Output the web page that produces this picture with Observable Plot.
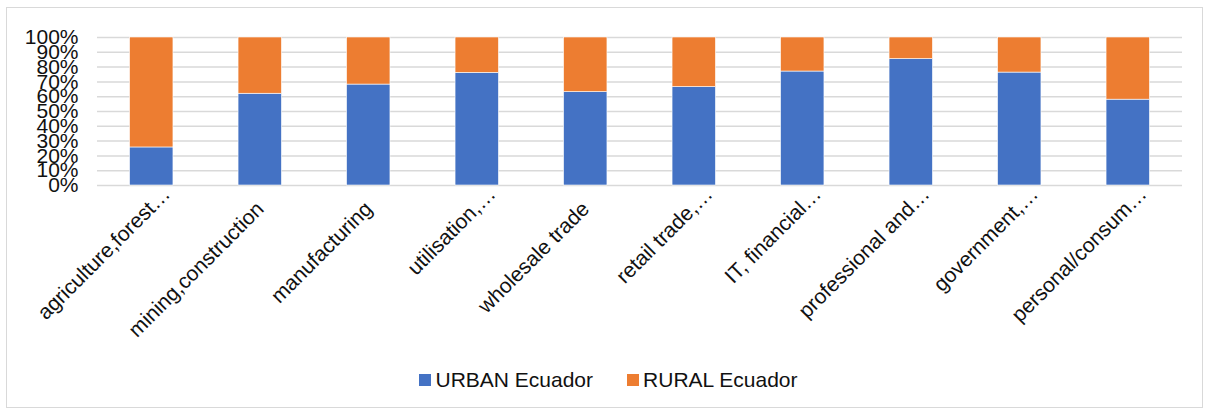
<!DOCTYPE html>
<html>
<head>
<meta charset="utf-8">
<script src="https://cdn.jsdelivr.net/npm/d3@7"></script>
<script src="https://cdn.jsdelivr.net/npm/@observablehq/plot@0.6"></script>
<style>
  html, body { margin: 0; padding: 0; background: #fff; }
  body { font-family: "Liberation Sans", Arial, sans-serif; }
  #frame {
    position: absolute; left: 6px; top: 7px; width: 1195px; height: 399px;
    border: 1px solid #d9d9d9; background: #fff; overflow: hidden;
  }
  #legend {
    display: flex; justify-content: center; align-items: center;
    margin-top: 10px; font-size: 21px; color: #111; padding-left: 8px;
  }
  .item { display: flex; align-items: center; margin: 0 17px; }
  .sw { width: 12px; height: 12px; margin-right: 4px; }
</style>
</head>
<body>
<div id="frame">
  <div id="chart"></div>
  <div id="legend"></div>
</div>
<script>
const categories = [
  "agriculture,forest…", "mining,construction", "manufacturing", "utilisation,…",
  "wholesale trade", "retail trade,…", "IT, financial…", "professional and…",
  "government,…", "personal/consum…"
];
const urban = [25.7, 62.0, 68.2, 76.1, 63.1, 66.5, 77.0, 85.4, 76.3, 58.0];
const rural = [74.3, 38.0, 31.8, 23.9, 36.9, 33.5, 23.0, 14.6, 23.7, 42.0];
const seriesNames = ["URBAN Ecuador", "RURAL Ecuador"];
const seriesColors = ["#4472C4", "#ED7D31"];
const yTicks = [0, 10, 20, 30, 40, 50, 60, 70, 80, 90, 100];

const data = [];
categories.forEach((c, i) => {
  data.push({cat: c, series: seriesNames[0], value: urban[i]});
  data.push({cat: c, series: seriesNames[1], value: rural[i]});
});

const chart = Plot.plot({
  width: 1195,
  height: 350,
  marginTop: 29,
  marginLeft: 90,
  marginRight: 20,
  marginBottom: 173,
  style: {fontFamily: '"Liberation Sans", Arial, sans-serif', fontSize: "21px", color: "#111", background: "white"},
  x: {domain: categories, paddingInner: 0.6, paddingOuter: 0.3, round: false, label: null},
  y: {domain: [0, 100], label: null},
  color: {domain: seriesNames, range: seriesColors},
  marks: [
    Plot.ruleY(yTicks, {stroke: "#d9d9d9", strokeWidth: 1.5}),
    Plot.barY(data, {x: "cat", y: "value", fill: "series", order: seriesNames, stroke: "white", strokeWidth: 0.6}),
    Plot.axisY({ticks: yTicks, tickFormat: d => d + "%", tickSize: 0, tickPadding: 19, fontSize: 21, label: null}),
    Plot.axisX({tickSize: 0, tickPadding: 20, tickRotate: -45, fontSize: 21, label: null})
  ]
});
// truncated labels sit a little further along their baseline, as in the reference
d3.select(chart).selectAll("[aria-label='x-axis tick label'] text")
  .filter(function() { return this.textContent.endsWith("…"); })
  .attr("dx", 21);
document.getElementById("chart").appendChild(chart);

const legend = document.getElementById("legend");
seriesNames.forEach((n, i) => {
  const it = document.createElement("div");
  it.className = "item";
  const sw = document.createElement("div");
  sw.className = "sw";
  sw.style.background = seriesColors[i];
  const t = document.createElement("span");
  t.textContent = n;
  it.appendChild(sw); it.appendChild(t);
  legend.appendChild(it);
});
</script>
</body>
</html>
